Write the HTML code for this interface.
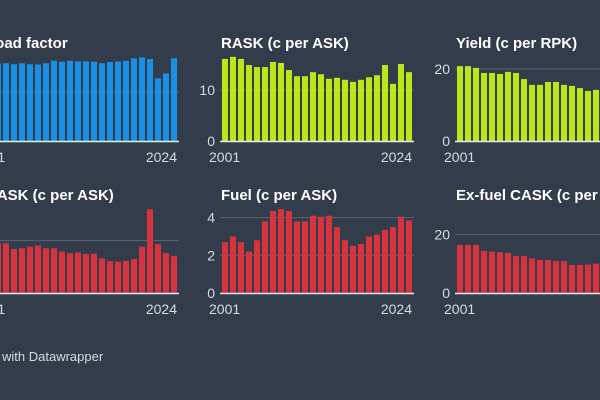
<!DOCTYPE html>
<html><head><meta charset="utf-8"><style>
html,body{margin:0;padding:0;background:#333c4a;}
svg{display:block;font-family:"Liberation Sans",Arial,sans-serif;}
.t{font-weight:bold;font-size:15px;fill:#fff;}
.tk{font-size:14px;fill:#d8dbe0;}
</style></head><body>
<svg id="c" width="600" height="400">
<rect width="600" height="400" fill="#333c4a"/>
<text x="2" y="361" font-size="13" fill="#d8dbe0">with Datawrapper</text>
</svg>
<script>
const years = ["2001","2024"];
const loadFactor = [79,79,79.3,78.3,79.3,78.3,78,79.3,81.9,80.9,81.9,81.2,81.2,80.9,79.3,80.5,81.2,81.9,84.4,85.4,83.7,64,69,84.4];
const rask = [16.1,16.5,16.1,14.9,14.5,14.5,15.5,15.3,13.9,12.7,12.7,13.5,13.1,12.2,12.4,12,11.6,12,12.5,12.9,14.9,11.2,15.1,13.5];
const yieldVals = [20.8,20.8,20.3,18.9,18.9,18.6,19.2,18.9,17.2,15.6,15.6,16.4,16.4,15.6,15.3,14.7,13.9,14.2,14.2,14.5,16.5,14,15,15.5];
const cask = [19,19,19,16.8,17.1,17.7,18.1,17.1,17.1,15.8,15.2,15.5,14.9,15,13.2,12.2,12,12.3,13,17.7,32,18.7,15.2,14.1];
const fuel = [2.7,3.0,2.7,2.2,2.8,3.8,4.35,4.45,4.35,3.8,3.8,4.1,4.05,4.1,3.5,2.8,2.5,2.6,3.0,3.1,3.35,3.5,4.05,3.85];
const exFuel = [16.4,16.4,16.4,14.4,14.1,13.9,13.7,12.6,12.6,11.8,11.3,11.3,10.9,10.9,9.6,9.6,9.7,10,10.3,10.5,11,11.5,11.8,12];
const loadTicks = [0,50];
const raskTicks = [0,10];
const yieldTicks = [0,20];
const caskTicks = [0,20];
const fuelTicks = [0,2,4];
const exFuelTicks = [0,20];

const svg = document.getElementById('c');
const NS = 'http://www.w3.org/2000/svg';
function mk(tag, attrs){const e=document.createElementNS(NS,tag);for(const k in attrs)e.setAttribute(k,attrs[k]);svg.appendChild(e);return e;}

function panel(name,title,values,ticks,color,x0,base,ppu){
  const w=194, pitch=8, bw=6;
  const y=v=>base-v*ppu;
  const xs=i=>x0+2+i*pitch;
  const t=mk('text',{x:x0+1,y:base-93,class:'t'});t.textContent=title;
  
  
  ticks.forEach(tv=>{
    if(tv>0){
      const g=mk('line',{x1:x0,x2:x0+w,y1:y(tv),y2:y(tv),stroke:'#5a6372','stroke-width':1});
      
      
    }
    const l=mk('text',{x:x0-5,y:y(tv)+5,class:'tk','text-anchor':'end'});l.textContent=tv;
    
    
  });
  values.forEach((v,i)=>{
    const r=mk('rect',{x:xs(i),y:y(v),width:bw,height:v*ppu,fill:color});
    
    
  });
  const a=mk('line',{x1:x0,x2:x0+w,y1:base+0.5,y2:base+0.5,stroke:'#e8eaee','stroke-width':1.5});
  
  
  const l1=mk('text',{x:x0-11,y:base+21,class:'tk'});l1.textContent=years[0];
  
  
  const l2=mk('text',{x:x0+w-2,y:base+21,class:'tk','text-anchor':'end'});l2.textContent=years[1];
  
  
}
panel('load-factor','Load factor',loadFactor,loadTicks,'#1a8fe3',-15,141,0.98);
panel('rask','RASK (c per ASK)',rask,raskTicks,'#bde61a',220,141,5.1);
panel('yield','Yield (c per RPK)',yieldVals,yieldTicks,'#bde61a',455,141,3.6);
panel('cask','CASK (c per ASK)',cask,caskTicks,'#d7333f',-15,293,2.62);
panel('fuel','Fuel (c per ASK)',fuel,fuelTicks,'#d7333f',220,293,18.85);
panel('ex-fuel-cask','Ex-fuel CASK (c per ASK)',exFuel,exFuelTicks,'#d7333f',455,293,2.93);
</script>
</body></html>
